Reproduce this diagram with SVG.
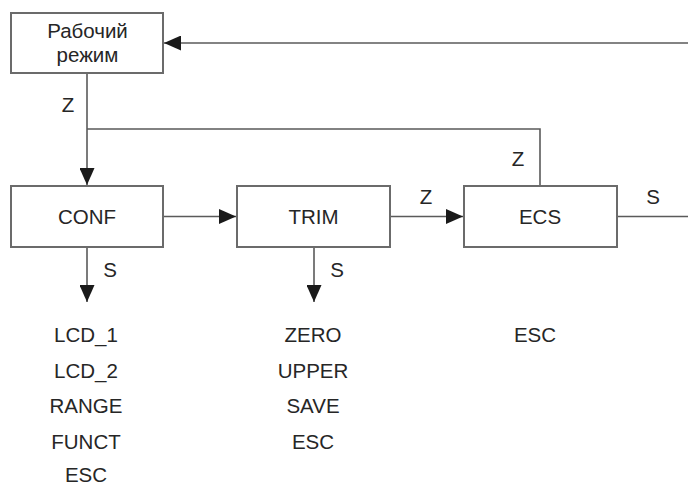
<svg xmlns="http://www.w3.org/2000/svg" width="688" height="486" viewBox="0 0 688 486">
<defs>
<style>
.box{fill:#fff;stroke:#6b6b6b;stroke-width:2}
.ln{fill:none;stroke:#5a5a5a;stroke-width:1.6}
text{font-family:"Liberation Sans",Arial,sans-serif;font-size:20.5px;fill:#262626;text-anchor:middle}
</style>
<marker id="ah" markerWidth="17" markerHeight="15" refX="17" refY="7.5" orient="auto" markerUnits="userSpaceOnUse">
<path d="M0,0 L17,7.5 L0,15 Z" fill="#1a1a1a"/>
</marker>
</defs>
<g id="connectors">
<path class="ln" d="M688,43 H164" marker-end="url(#ah)"/>
<path class="ln" d="M87,73 V185" marker-end="url(#ah)"/>
<path class="ln" d="M87,129 H540 V186"/>
<path class="ln" d="M163,216.5 H236" marker-end="url(#ah)"/>
<path class="ln" d="M390,216.5 H463" marker-end="url(#ah)"/>
<path class="ln" d="M617,216.5 H688"/>
<path class="ln" d="M87,247 V302" marker-end="url(#ah)"/>
<path class="ln" d="M314,247 V302" marker-end="url(#ah)"/>
<text x="68" y="112">Z</text>
<text x="518" y="166">Z</text>
<text x="426" y="204">Z</text>
<text x="653" y="204">S</text>
<text x="110" y="277">S</text>
<text x="337" y="277">S</text>
</g>
<g id="work">
<rect class="box" x="11" y="13" width="152" height="60"/>
<text x="87.5" y="37.5">Рабочий</text>
<text x="87.5" y="62">режим</text>
</g>
<g id="conf">
<rect class="box" x="11" y="186" width="152" height="61"/>
<text x="87" y="224">CONF</text>
</g>
<g id="trim">
<rect class="box" x="237" y="186" width="153" height="61"/>
<text x="313.5" y="224">TRIM</text>
</g>
<g id="ecs">
<rect class="box" x="464" y="186" width="153" height="61"/>
<text x="540" y="224">ECS</text>
</g>
<g id="conf-list">
<text x="86" y="341.5">LCD_1</text>
<text x="86" y="377.5">LCD_2</text>
<text x="86" y="413">RANGE</text>
<text x="86" y="449">FUNCT</text>
<text x="86" y="481.5">ESC</text>
</g>
<g id="trim-list">
<text x="313" y="341.5">ZERO</text>
<text x="313" y="377.5">UPPER</text>
<text x="313" y="413">SAVE</text>
<text x="313" y="449">ESC</text>
</g>
<g id="ecs-list">
<text x="535" y="341.5">ESC</text>
</g>
</svg>
